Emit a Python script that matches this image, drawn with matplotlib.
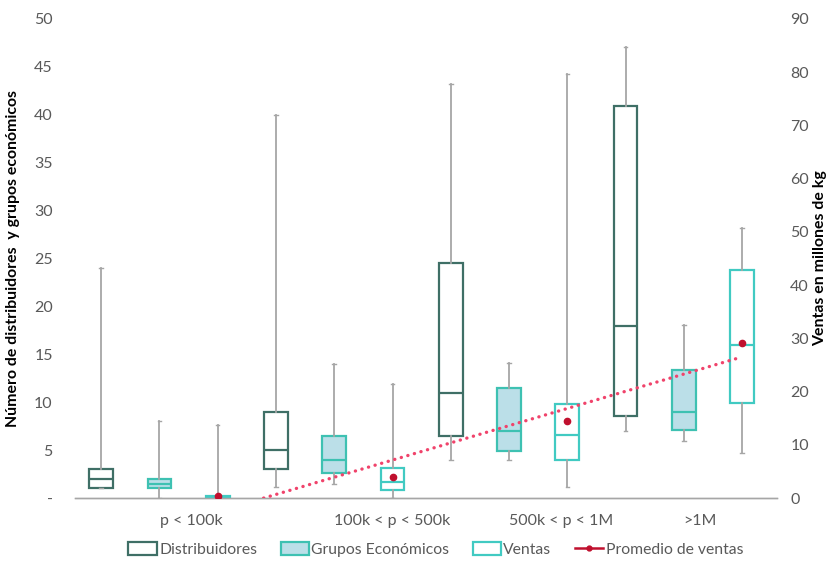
import numpy as np
import matplotlib.pyplot as plt
from matplotlib.patches import Patch
from matplotlib.lines import Line2D

plt.rcParams['font.family'] = ['Lato', 'DejaVu Sans']

# population ranges
categories = ['p < 100k', '100k < p < 500k', '500k < p < 1M', '>1M']
cat_pos = [1.54, 4.99, 7.89, 10.27]

# box stats: min, q1, median, q3, max
distribuidores = [
    [1, 1, 2, 3, 24],
    [1.2, 3, 5, 9, 40],
    [4, 6.5, 11, 24.5, 43.2],
    [7, 8.6, 18, 40.9, 47.1],
]
grupos = [
    [0, 1, 1.5, 2, 8],
    [1.5, 2.6, 4, 6.5, 14],
    [4, 4.9, 7, 11.5, 14.1],
    [6, 7.1, 9, 13.4, 18.1],
]
# ventas in millones de kg (right axis)
ventas = [
    [0, 0, 0.1, 0.3, 13.7],
    [0, 1.5, 3, 5.6, 21.4],
    [2, 7.1, 11.8, 17.7, 79.7],
    [8.5, 17.8, 28.8, 42.9, 50.7],
]
ventas_mean = [0.3, 4.0, 14.5, 29.1]

c_dist = '#3f6f66'
c_grp = '#3ec1b2'
c_grp_fill = '#bbdfe8'
c_vent = '#41cac2'
c_whisk = '#a6a6a6'
c_mean = '#c0102e'
c_trend = '#f0436b'
c_text = '#595959'


def stats(rows):
    return [dict(whislo=r[0], q1=r[1], med=r[2], q3=r[3], whishi=r[4], fliers=[]) for r in rows]


fig = plt.figure(figsize=(8.3, 5.61), dpi=100)
ax = fig.add_axes([75 / 830, 1 - 498 / 561, 702 / 830, 479 / 561])
ax2 = ax.twinx()

pos_d = [i * 3 for i in range(4)]
pos_g = [i * 3 + 1 for i in range(4)]
pos_v = [i * 3 + 2 for i in range(4)]
w = 0.41


def draw(axis, data, pos, edge, fill):
    axis.bxp(stats(data), positions=pos, widths=w, patch_artist=True,
             showfliers=False, showcaps=True, capwidths=0.06,
             boxprops=dict(facecolor=fill, edgecolor=edge, linewidth=1.6),
             medianprops=dict(color=edge, linewidth=1.6),
             whiskerprops=dict(color=c_whisk, linewidth=1.3),
             capprops=dict(color=c_whisk, linewidth=1.0))


draw(ax, distribuidores, pos_d, c_dist, 'none')
draw(ax, grupos, pos_g, c_grp, c_grp_fill)
draw(ax2, ventas, pos_v, c_vent, 'none')

# mean of ventas and its linear trend
ax2.plot(pos_v, ventas_mean, 'o', color=c_mean, markersize=4.5, zorder=5)
k, b = np.polyfit(pos_v, ventas_mean, 1)
xt = np.array([pos_v[0], pos_v[-1]])
ax2.plot(xt, k * xt + b, color=c_trend, linewidth=2.4,
         linestyle=(0, (0.05, 2.0)), dash_capstyle='round', zorder=4)

ax.set_xlim(-0.45, 11.6)
ax.set_ylim(0, 50)
ax2.set_ylim(0, 90)

ax.set_yticks(range(0, 51, 5))
ax.set_yticklabels(['-'] + [str(v) for v in range(5, 51, 5)])
ax2.set_yticks(range(0, 91, 10))

ax.set_xticks(cat_pos)
ax.set_xticklabels(categories)
ax.tick_params(axis='x', length=0, pad=11.5, labelsize=11.5, labelcolor=c_text)
ax.tick_params(axis='y', length=0, pad=16, labelsize=11.5, labelcolor=c_text)
ax2.tick_params(axis='y', length=0, pad=9.5, labelsize=11.5, labelcolor=c_text)

for a in (ax, ax2):
    for s in ('top', 'left', 'right'):
        a.spines[s].set_visible(False)
    a.spines['bottom'].set_color('#a6a6a6')
    a.spines['bottom'].set_linewidth(1.0)

ax.set_ylabel('Número de distribuidores  y grupos económicos',
              fontsize=11.4, fontweight='bold', color='black')
ax.yaxis.set_label_coords(-0.079, 0.5)
ax2.set_ylabel('Ventas en millones de kg', fontsize=11.4, fontweight='bold',
               color='black', rotation=90)
ax2.yaxis.set_label_coords(1.052, 0.5)

handles = [
    Patch(facecolor='none', edgecolor=c_dist, linewidth=1.6),
    Patch(facecolor=c_grp_fill, edgecolor=c_grp, linewidth=1.6),
    Patch(facecolor='none', edgecolor=c_vent, linewidth=1.6),
    Line2D([], [], color=c_mean, marker='o', markersize=3.5, linewidth=1.8),
]
labels = ['Distribuidores', 'Grupos Económicos', 'Ventas', 'Promedio de ventas']
leg = fig.legend(handles, labels, loc='center', bbox_to_anchor=(0.525, 0.021),
                 ncol=4, frameon=False, fontsize=11.3, handlelength=1.8,
                 handleheight=0.9, handletextpad=0.15, columnspacing=1.5)
for t in leg.get_texts():
    t.set_color(c_text)

fig.savefig('out.png', dpi=100)
